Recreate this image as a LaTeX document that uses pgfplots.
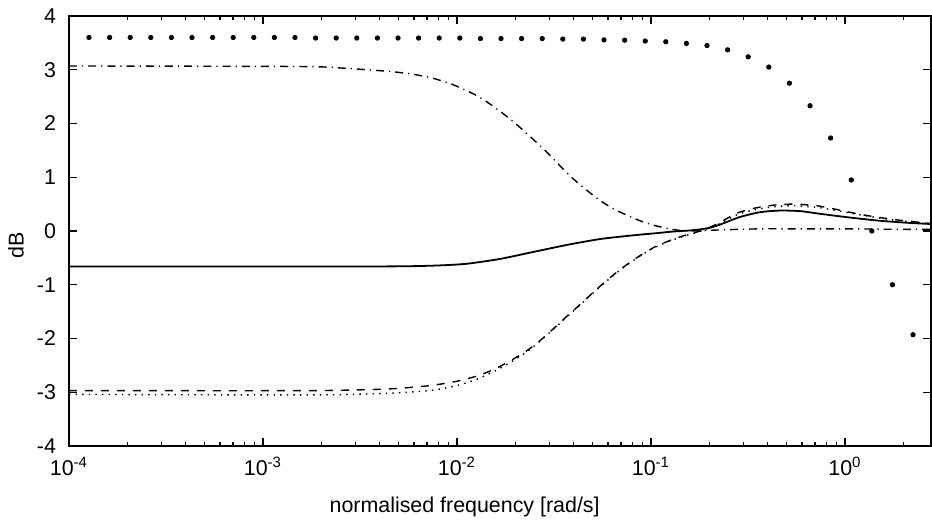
\documentclass[border=0pt]{standalone}
\usepackage{fontspec}
\setmainfont{Liberation Sans}
\usepackage{pgfplots}
\pgfplotsset{compat=1.18}
\newcommand{\lblfont}{\fontsize{10.7}{12.5}\selectfont}
\begin{document}
\begin{tikzpicture}
\begin{axis}[
  scale only axis,
  width=431pt, height=215pt,
  xmode=log,
  xmin=1e-4, xmax=2.775,
  ymin=-4, ymax=4,
  axis line style={line width=0.9pt},
  tick align=inside,
  major tick length=4pt,
  minor tick length=2pt,
  every tick/.style={black, line width=0.6pt},
  xtick={1e-4,1e-3,1e-2,1e-1,1},
  xticklabels={{10\textsuperscript{-4}},{10\textsuperscript{-3}},{10\textsuperscript{-2}},{10\textsuperscript{-1}},{10\textsuperscript{0}}},
  minor xtick={2e-4,3e-4,4e-4,5e-4,6e-4,7e-4,8e-4,9e-4,2e-3,3e-3,4e-3,5e-3,6e-3,7e-3,8e-3,9e-3,2e-2,3e-2,4e-2,5e-2,6e-2,7e-2,8e-2,9e-2,0.2,0.3,0.4,0.5,0.6,0.7,0.8,0.9,2},
  ytick={-4,-3,-2,-1,0,1,2,3,4},
  yticklabels={-4,-3,-2,-1,0,1,2,3,4},
  tick label style={font=\lblfont},
  /pgf/number format/assume math mode=true,
  yticklabel style={xshift=-3pt},
  xticklabel style={yshift=-2pt},
  xlabel={normalised frequency [rad/s]},
  ylabel={dB},
  every axis x label/.style={at={(axis description cs:0.459,-0.142)}, anchor=center, font=\lblfont},
  every axis y label/.style={at={(axis description cs:-0.0615,0.467)}, anchor=center, rotate=90, font=\lblfont},
  clip=true,
]
\coordinate (o) at (rel axis cs:0,0);
\coordinate (tr) at (rel axis cs:1,1);

% dotted big-dot series
\addplot[only marks, mark=*, mark size=1.1pt, black] coordinates {
(1.268e-4,3.60) (1.620e-4,3.60) (2.068e-4,3.60) (2.641e-4,3.60) (3.373e-4,3.60)
(4.307e-4,3.60) (5.500e-4,3.60) (7.022e-4,3.60) (8.966e-4,3.60) (1.145e-3,3.60)
(1.462e-3,3.60) (1.867e-3,3.59) (2.384e-3,3.59) (3.045e-3,3.59) (3.889e-3,3.59)
(4.966e-3,3.59) (6.342e-3,3.59) (8.095e-3,3.59) (1.034e-2,3.59) (1.320e-2,3.58)
(1.686e-2,3.58) (2.153e-2,3.58) (2.750e-2,3.58) (3.512e-2,3.57) (4.485e-2,3.57)
(5.727e-2,3.555) (7.314e-2,3.55) (9.338e-2,3.535) (0.1192,3.52) (0.1522,3.49)
(0.1944,3.45) (0.2483,3.37) (0.3170,3.24) (0.4049,3.05) (0.5171,2.75)
(0.6604,2.33) (0.8433,1.73) (1.077,0.95) (1.375,0.0) (1.756,-1.0) (2.242,-1.93)
};

% upper dash-dot
\addplot[black, line width=0.7pt, smooth, tension=0.4, dash pattern=on 4pt off 2.5pt on 0.6pt off 2.5pt] coordinates {
(1e-4,3.07) (1.551e-3,3.06) (2.594e-3,3.03) (4.424e-3,2.97) (5.84e-3,2.92)
(7.55e-3,2.84) (9.57e-3,2.72) (1.263e-2,2.52) (1.538e-2,2.32) (1.914e-2,2.06)
(2.378e-2,1.76) (2.955e-2,1.44) (3.465e-2,1.18) (3.977e-2,0.97) (4.662e-2,0.76)
(5.353e-2,0.59) (6.27e-2,0.43) (7.345e-2,0.31) (8.776e-2,0.19) (0.1028,0.11)
(0.1205,0.05) (0.1411,0.01) (0.1652,0.0) (0.2269,0.02) (0.3646,0.04)
(0.5861,0.04) (1.061,0.04) (1.921,0.03) (2.775,0.03)
};

% solid
\addplot[black, line width=0.9pt, smooth, tension=0.4] coordinates {
(1e-4,-0.66) (3.0e-3,-0.66) (5.724e-3,-0.655) (8.175e-3,-0.64) (1.122e-2,-0.61) (1.665e-2,-0.52)
(2.473e-2,-0.39) (3.676e-2,-0.26) (5.46e-2,-0.15) (8.108e-2,-0.08) (0.1070,-0.04)
(0.1302,-0.01) (0.1589,0.01) (0.1789,0.03) (0.2014,0.06) (0.2269,0.12)
(0.2875,0.26) (0.3646,0.35) (0.4624,0.38) (0.5861,0.37) (0.7434,0.32)
(1.061,0.25) (1.515,0.19) (2.163,0.15) (2.775,0.13)
};

% dashed
\addplot[black, line width=0.7pt, smooth, tension=0.4, dash pattern=on 4pt off 4pt] coordinates {
(1e-4,-2.97) (1.747e-3,-2.97) (4.341e-3,-2.94) (6.704e-3,-2.89) (8.175e-3,-2.85)
(1.016e-2,-2.79) (1.263e-2,-2.70) (1.538e-2,-2.58) (1.875e-2,-2.42) (2.287e-2,-2.23)
(2.679e-2,-2.04) (3.136e-2,-1.82) (3.676e-2,-1.59) (4.305e-2,-1.37) (5.042e-2,-1.14)
(5.908e-2,-0.92) (6.921e-2,-0.72) (8.108e-2,-0.54) (9.502e-2,-0.38) (0.1070,-0.28)
(0.1205,-0.20) (0.1357,-0.13) (0.1528,-0.07) (0.1720,-0.02) (0.2014,0.07)
(0.2269,0.16) (0.2765,0.33) (0.3367,0.42) (0.4270,0.48) (0.5414,0.50)
(0.7146,0.47) (0.9060,0.40) (1.195,0.31) (1.515,0.25) (1.921,0.20) (2.775,0.14)
};

% dotted
\addplot[black, line width=0.7pt, smooth, tension=0.4, dash pattern=on 0.7pt off 2.6pt] coordinates {
(1e-4,-3.04) (1.747e-3,-3.05) (4.341e-3,-3.02) (6.704e-3,-2.98) (8.175e-3,-2.94)
(1.016e-2,-2.87) (1.263e-2,-2.76) (1.538e-2,-2.62) (1.875e-2,-2.45) (2.287e-2,-2.25)
(2.679e-2,-2.05) (3.136e-2,-1.83) (3.676e-2,-1.60) (4.305e-2,-1.38) (5.042e-2,-1.15)
(5.908e-2,-0.93) (6.921e-2,-0.73) (8.108e-2,-0.55) (9.502e-2,-0.39) (0.1070,-0.29)
(0.1205,-0.21) (0.1357,-0.14) (0.1528,-0.08) (0.1720,-0.03) (0.2014,0.06)
(0.2269,0.14) (0.2765,0.30) (0.3367,0.39) (0.4270,0.45) (0.5414,0.47)
(0.7146,0.44) (0.9060,0.38) (1.195,0.30) (1.515,0.24) (1.921,0.19) (2.775,0.14)
};
\end{axis}
\pgfresetboundingbox
\path[use as bounding box] ([xshift=-34.5pt,yshift=-37.5pt]o) rectangle ([xshift=0.5pt,yshift=8pt]tr);
\end{tikzpicture}
\end{document}
